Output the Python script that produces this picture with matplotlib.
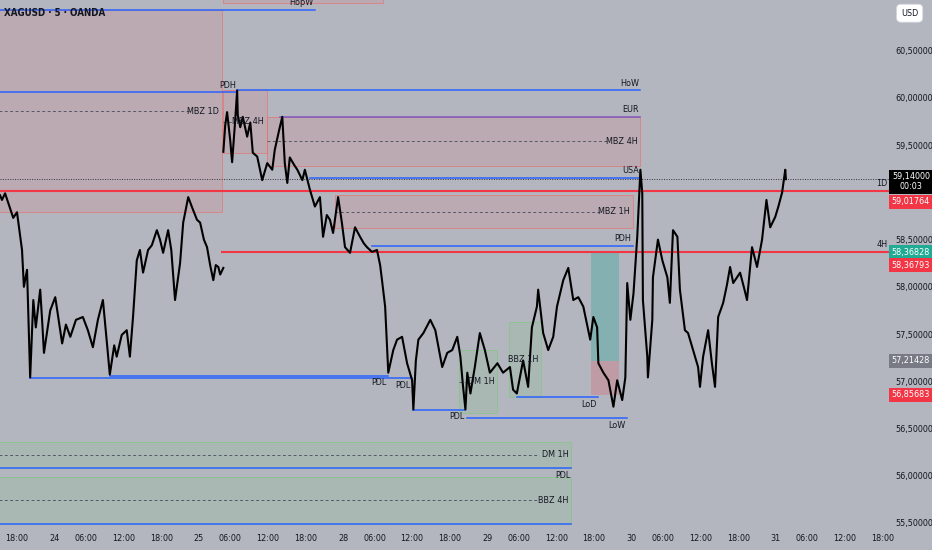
import numpy as np
import matplotlib.pyplot as plt
import matplotlib.transforms as mtransforms
from matplotlib.patches import Rectangle

plt.rcParams['font.family'] = ['DejaVu Sans']
plt.rcParams['font.stretch'] = 'condensed'

# price path (5m XAGUSD) - hours on the session axis, 0 = 23rd 18:00
seg1_h = [-2.7, -2.4, -1.9, -0.6, 0.0, 0.8, 1.1, 1.6, 2.1, 2.6, 3.0, 3.7, 4.0, 4.3, 5.3,
          6.1, 7.2, 7.8, 8.5, 9.4, 10.5, 11.3, 12.1, 12.9, 13.7, 14.4, 14.8, 15.5, 15.9, 16.7,
          17.5, 18.0, 18.5, 19.1, 19.6, 20.1, 20.9, 21.5, 22.3, 22.8, 23.3, 24.1, 24.6, 25.2,
          26.0, 26.5, 27.3, 28.1, 28.7, 29.2, 29.8, 30.3, 30.8, 31.3, 31.7, 32.1, 32.4, 32.9]
seg1_p = [58.97, 58.92, 58.99, 58.73, 58.79, 58.39, 58.00, 58.18, 57.04, 57.86, 57.57, 57.97,
          57.65, 57.30, 57.75, 57.89, 57.40, 57.60, 57.47, 57.65, 57.68, 57.54, 57.36, 57.65,
          57.86, 57.36, 57.07, 57.38, 57.26, 57.49, 57.54, 57.26, 57.68, 58.28, 58.39, 58.15,
          58.39, 58.44, 58.60, 58.50, 58.36, 58.60, 58.39, 57.86, 58.25, 58.68, 58.95, 58.81,
          58.71, 58.68, 58.50, 58.42, 58.23, 58.07, 58.23, 58.21, 58.13, 58.20]
seg2_h = [32.9, 33.2, 33.5, 34.0, 34.3, 34.8, 35.1, 35.2, 35.6, 36.0,
          36.7, 37.2, 37.6, 38.3, 39.1, 39.9, 40.7, 41.1, 41.8, 42.3,
          42.7, 43.1, 43.5, 44.2, 44.7, 45.5, 45.9, 46.7, 47.5, 48.3,
          48.8, 49.4, 49.9, 50.4, 51.2, 51.8, 52.3, 53.1, 53.9, 54.7,
          55.3, 55.8, 56.6, 57.4, 57.9, 58.2, 58.7, 59.0, 59.2, 60.0,
          60.6, 61.4, 62.2, 63.0, 63.2, 63.6, 64.0, 64.8, 65.9, 66.7,
          67.8, 68.6, 69.4, 70.2, 70.7, 71.1, 71.5, 71.8, 72.3, 73.0,
          73.8, 74.6, 75.4, 76.6, 77.5, 78.6, 79.1, 79.7, 80.7, 81.5,
          82.1, 82.9, 83.1, 83.9, 84.7, 85.5, 86.1, 87.1, 87.9, 88.7,
          89.5, 90.3, 90.9, 91.4, 91.9, 92.5, 92.7, 93.5, 94.3, 95.1,
          95.7, 96.5, 97.0, 97.3, 97.8, 98.3, 98.9, 99.4, 99.7, 99.8,
          100.5, 100.6, 101.3, 101.4, 102.2, 102.9, 103.7, 104.1, 104.6, 105.3,
          105.7, 106.5, 107.0, 107.8, 108.6, 108.9, 109.4, 110.2, 110.8, 111.3,
          111.8, 112.6, 113.2, 113.7, 114.2, 115.3, 116.0, 116.4, 117.2, 118.0,
          118.8, 119.5, 120.1, 120.9, 121.4, 122.0, 122.5, 122.6]
seg2_p = [59.43, 59.71, 59.85, 59.55, 59.32, 59.77, 60.08, 59.82, 59.69, 59.80,
          59.59, 59.74, 59.42, 59.38, 59.13, 59.31, 59.24, 59.45, 59.66, 59.80,
          59.31, 59.10, 59.37, 59.29, 59.24, 59.13, 59.24, 59.03, 58.85, 58.95,
          58.53, 58.76, 58.71, 58.57, 58.95, 58.68, 58.42, 58.36, 58.63, 58.53,
          58.46, 58.42, 58.37, 58.39, 58.23, 58.07, 57.79, 57.36, 57.09, 57.33,
          57.44, 57.47, 57.19, 57.01, 56.70, 57.22, 57.44, 57.51, 57.65, 57.54,
          57.15, 57.30, 57.33, 57.47, 57.26, 56.96, 56.70, 57.09, 56.87, 57.15,
          57.51, 57.33, 57.09, 57.19, 57.09, 57.15, 56.91, 56.87, 57.22, 56.94,
          57.57, 57.79, 57.97, 57.51, 57.33, 57.47, 57.79, 58.07, 58.20, 57.86,
          57.89, 57.79, 57.60, 57.44, 57.68, 57.57, 57.19, 57.09, 57.01, 56.73,
          57.01, 56.80, 57.04, 58.04, 57.65, 57.93, 58.53, 59.24, 58.99, 57.86,
          57.26, 57.04, 57.65, 58.10, 58.50, 58.28, 58.10, 57.83, 58.60, 58.53,
          57.97, 57.54, 57.51, 57.33, 57.15, 56.94, 57.26, 57.54, 57.19, 56.94,
          57.68, 57.83, 58.02, 58.21, 58.04, 58.15, 57.97, 57.86, 58.42, 58.21,
          58.50, 58.92, 58.63, 58.74, 58.85, 59.00, 59.24, 59.14]

tick_hours = [0, 6, 11, 17, 23, 29, 34, 40, 46, 52, 57, 63, 69, 75, 80, 86,
              92, 98, 103, 109, 115, 121, 126, 132, 138]
tick_labels = ['18:00', '24', '06:00', '12:00', '18:00', '25', '06:00', '12:00',
               '18:00', '28', '06:00', '12:00', '18:00', '29', '06:00', '12:00',
               '18:00', '30', '06:00', '12:00', '18:00', '31', '06:00', '12:00', '18:00']
price_ticks = [55.5, 56.0, 56.5, 57.0, 57.5, 58.0, 58.5, 59.5, 60.0, 60.5]

# liquidity levels
level_names = ['HopW', 'PDH', 'HoW', 'EUR', 'USA', 'PDH', 'PDL', 'PDL', 'PDL', 'LoD', 'LoW', 'PDL', '']
level_prices = [60.93, 60.06, 60.08, 59.80, 59.15, 58.43, 57.06, 57.03, 56.70, 56.83, 56.61, 56.08, 55.49]
level_from = [-5, -5, 35.1, 41.9, 46.7, 56.6, 14.8, 2.1, 63.2, 79.7, 71.8, -5, -5]
level_to = [47.5, 35.1, 99.4, 99.4, 99.4, 98.2, 59.2, 63.0, 71.5, 92.7, 97.3, 88.4, 88.4]
level_below = [False, False, False, False, False, False, True, True, True, True, True, True, True]
level_color = ['blue', 'blue', 'blue', 'purple', 'blue', 'blue', 'blue', 'blue', 'blue',
               'blue', 'blue', 'blue', 'blue']

# zones (supply = red, demand = green)
zone_names = ['', 'MBZ 1D', 'MBZ 4H', 'MBZ 4H', 'MBZ 1H', 'DM 1H', 'BBZ 1H', 'DM 1H', 'BBZ 4H']
zone_low = [61.01, 58.79, 59.42, 59.28, 58.62, 56.66, 56.83, 56.08, 55.49]
zone_high = [61.40, 60.93, 60.08, 59.80, 58.97, 57.33, 57.63, 56.36, 55.99]
zone_from = [32.9, -5, 32.9, 39.9, 50.7, 70.5, 78.5, -5, -5]
zone_to = [58.4, 32.7, 39.9, 99.4, 98.2, 76.6, 83.6, 88.4, 88.4]
zone_kind = ['sup', 'sup', 'sup', 'sup', 'sup', 'dem', 'dem', 'dem', 'dem']

# higher timeframe opens
tf_names = ['1D', '4H']
tf_prices = [59.01764, 58.36793]
tf_from = [-5, 32.7]

# long position
pos_from, pos_to = 91.5, 96.0
pos_entry, pos_tp, pos_sl = 57.21428, 58.36828, 56.85683

last_price = 59.14
countdown = '00:03'

bg = '#b3b6be'
txt = '#131722'
blue = '#2962ff'
red = '#f23645'
colors = {'blue': blue, 'purple': '#7e57c2'}
fs = 6.5

fig = plt.figure(figsize=(9.32, 5.5), dpi=100, facecolor=bg)
ax = fig.add_axes([0, 0.04, 890 / 932, 0.96])
ax.set_facecolor(bg)
ax.set_xlim(-2.71, 139.2)
ax.set_ylim(55.445, 61.038)

# zones
for name, lo, hi, x0, x1, kind in zip(zone_names, zone_low, zone_high, zone_from, zone_to, zone_kind):
    c = '#e57373' if kind == 'sup' else '#81c784'
    ax.add_patch(Rectangle((x0, lo), x1 - x0, hi - lo, fc=c, alpha=0.17, ec='none', zorder=1))
    ax.add_patch(Rectangle((x0, lo), x1 - x0, hi - lo, fc='none', ec=c, alpha=0.7, lw=0.7, zorder=1))
    if name:
        mid = (lo + hi) / 2
        ax.plot([x0, x1 - 5.2], [mid, mid], ls=(0, (3, 2.5)), color='#555a66', lw=0.7, zorder=1.5)
        ax.text(x1 - 0.5, mid, name, ha='right', va='center', fontsize=fs, color=txt, zorder=4)

# long position tool
ax.add_patch(Rectangle((pos_from, pos_entry), pos_to - pos_from, pos_tp - pos_entry,
                       fc='#26a69a', alpha=0.33, ec='none', zorder=1.2))
ax.add_patch(Rectangle((pos_from, pos_sl), pos_to - pos_from, pos_entry - pos_sl,
                       fc=red, alpha=0.2, ec='none', zorder=1.2))

# levels
for name, p, x0, x1, below, col in zip(level_names, level_prices, level_from, level_to, level_below, level_color):
    ax.plot([x0, x1], [p, p], color=colors[col], lw=1.1, zorder=2)
    if name:
        ax.annotate(name, (x1, p), xytext=(-1, -2 if below else 2), textcoords='offset points',
                    ha='right', va='top' if below else 'bottom', fontsize=fs, color=txt, zorder=4)

for name, p, x0 in zip(tf_names, tf_prices, tf_from):
    ax.plot([x0, 140], [p, p], color=red, lw=1.5, zorder=2.2)
    ax.annotate(name, (139.2, p), xytext=(-2, 2), textcoords='offset points',
                ha='right', va='bottom', fontsize=fs, color=txt, zorder=4)

# current price
ax.axhline(last_price, color='#30333d', lw=0.7, ls=(0, (1, 1.5)), zorder=2)

# price path
ax.plot(seg1_h, seg1_p, color='black', lw=1.5, zorder=3)
ax.plot(seg2_h, seg2_p, color='black', lw=1.5, zorder=3)

# axes
for s in ax.spines.values():
    s.set_visible(False)
ax.set_xticks(tick_hours)
ax.set_xticklabels(tick_labels)
ax.set_yticks(price_ticks)
ax.set_yticklabels([f'{v:.5f}'.replace('.', ',') for v in price_ticks])
ax.yaxis.tick_right()
ax.tick_params(axis='both', length=0, labelsize=fs, labelcolor=txt)
ax.tick_params(axis='x', pad=4)
ax.tick_params(axis='y', pad=4)

ax.text(0.0045, 0.975, 'XAGUSD · 5 · OANDA', transform=ax.transAxes, ha='left', va='center',
        fontsize=7, color=txt, fontweight='bold', zorder=5)

# price tags on the scale
tr = mtransforms.blended_transform_factory(ax.transAxes, ax.transData)
def tag(price, label, fc, tc='white', dy=0, va='center'):
    ax.annotate(label, (1.0235, price), xycoords=tr, xytext=(0, dy), textcoords='offset points',
                ha='center', va=va, fontsize=fs, color=tc, annotation_clip=False, zorder=10,
                linespacing=1.15,
                bbox=dict(boxstyle='square,pad=0.3', fc=fc, ec='none'))

tag(last_price, f'{last_price:.5f}'.replace('.', ',') + '\n' + countdown, '#000000', dy=5, va='top')
tag(tf_prices[0], f'{tf_prices[0]:.5f}'.replace('.', ','), red, dy=-8)
tag(pos_tp, f'{pos_tp:.5f}'.replace('.', ','), '#22ab94')
tag(tf_prices[1], f'{tf_prices[1]:.5f}'.replace('.', ','), red, dy=-9.5)
tag(pos_entry, f'{pos_entry:.5f}'.replace('.', ','), '#787b86')
tag(pos_sl, f'{pos_sl:.5f}'.replace('.', ','), red)

fig.text(0.976, 0.976, 'USD', ha='center', va='center', fontsize=fs, color=txt,
         bbox=dict(boxstyle='round,pad=0.5', fc='white', ec='#d1d4dc', lw=0.6))

fig.savefig('out.png', dpi=100, facecolor=bg)
